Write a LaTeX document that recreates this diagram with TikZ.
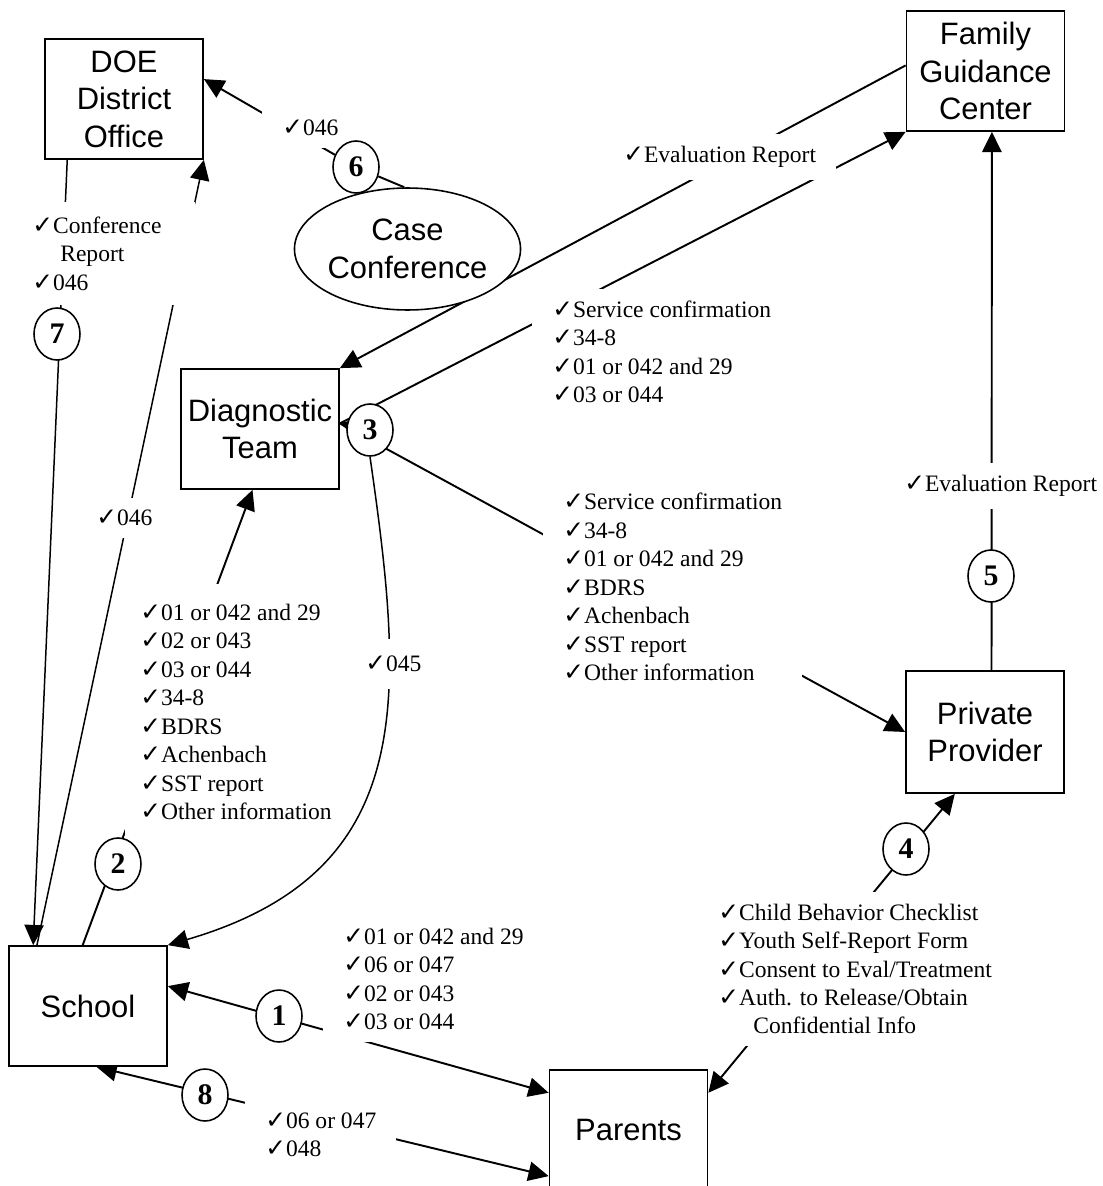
\documentclass[tikz,border=0pt]{standalone}
\usepackage{fontspec}
\setmainfont{Liberation Serif}
\setsansfont{Liberation Sans}
\newfontfamily\checkfont[Scale=1.05]{DejaVu Sans}
\usetikzlibrary{arrows.meta,shapes.geometric}
\newcommand{\chk}{{\checkfont ✓}}
\pgfdeclarelayer{lines}
\pgfdeclarelayer{labels}
\pgfsetlayers{lines,labels,main}
\begin{document}
\begin{tikzpicture}[x=0.02cm,y=-0.02cm,
    office/.style={draw,line width=1pt,fill=white,minimum width=3.16cm,minimum height=2.4cm,inner sep=0pt,align=center,font=\sffamily\fontsize{17.6}{21.3}\selectfont},
    num/.style={draw,ellipse,line width=0.9pt,fill=white,minimum width=0.92cm,minimum height=1.04cm,inner sep=0pt,font=\bfseries\fontsize{17}{18}\selectfont},
    doc/.style={fill=white,align=left,anchor=west,inner xsep=0.4cm,inner ysep=0.24cm,font=\fontsize{13.4}{16.2}\selectfont},
    flow/.style={line width=1.1pt,-{Triangle[length=11.5pt,width=11pt]}},
    thinflow/.style={line width=0.85pt,-{Triangle[length=11.5pt,width=11pt]}},
    twoway/.style={line width=1.1pt,{Triangle[length=11.5pt,width=11pt]}-{Triangle[length=11.5pt,width=11pt]}}]
    \useasboundingbox (0,0) rectangle (1102,1186);
    \node[office] (doe) at (124,99) {DOE\\District\\Office};
    \node[office] (fgc) at (985.5,71) {Family\\Guidance\\Center};
    \node[office] (dt) at (260,429) {Diagnostic\\Team};
    \node[office,minimum height=2.44cm] (pp) at (985,732) {Private\\Provider};
    \node[office] (school) at (88,1006) {School};
    \node[office] (parents) at (628.5,1130) {Parents};
    \node[office,ellipse,line width=0.9pt,minimum width=4.1cm,minimum height=2.44cm] (cc) at (407.5,249) {Case\\Conference};
    \node[num] (c1) at (279,1016) {1};
    \node[num] (c2) at (118,864) {2};
    \node[num] (c3) at (370,430) {3};
    \node[num] (c4) at (906,849) {4};
    \node[num] (c5) at (991,576) {5};
    \node[num] (c6) at (356,167) {6};
    \node[num] (c7) at (57,334) {7};
    \node[num] (c8) at (205,1095) {8};
    \begin{pgfonlayer}{lines}
        \draw[flow] (c6) -- (doe.14);
        \draw[line width=1.1pt] (c6) -- (cc.93);
        \draw[thinflow] (doe.227) -- (school.132);
        \draw[thinflow] (school.130) -- (doe.south east);
        \draw[flow] (school.95) -- (dt.263);
        \draw[flow] (fgc.176) -- (dt.north east);
        \draw[flow] (dt.4) -- (fgc.south west);
        \draw[flow] (dt.4) -- (pp.west);
        \draw[line width=0.8pt,-{Triangle[length=5pt,width=5pt]}] (c3) -- (dt.4);
        \draw[thinflow] (c3.south) .. controls (405,700) and (418,872) .. (school.north east);
        \draw[flow] (pp.84) -- (fgc.276);
        \draw[twoway] (parents.25) -- (pp.244);
        \draw[twoway] (school.14) -- (parents.155);
        \draw[twoway] (school.278) -- (parents.210);
    \end{pgfonlayer}
    \begin{pgfonlayer}{labels}
        \node[doc] (lfirst) at (262,128) {\chk046};
        \node[doc,inner xsep=0.72cm,inner ysep=0.3cm,text width=2.54cm] (lconf) at (-4,253.5) {\chk Conference\\\hspace*{0.56cm}Report\\\chk046};
        \node[doc] (lsecond) at (76,518) {\chk046};
        \node[doc,inner xsep=0.3cm,inner ysep=0.4cm] (ldocs) at (125,712) {\chk01 or 042 and 29\\\chk02 or 043\\\chk03 or 044\\\chk34-8\\\chk BDRS\\\chk Achenbach\\\chk SST report\\\chk Other information\hspace*{-0.3cm}};
        \node[doc,inner ysep=0.34cm] (lcurve) at (345,664) {\chk045};
        \node[doc] (leval) at (603,157) {\chk Evaluation Report};
        \node[doc] (lsvc) at (532,352) {\chk Service confirmation\\\chk34-8\\\chk01 or 042 and 29\\\chk03 or 044};
        \node[doc] (lsvcpp) at (543,587) {\chk Service confirmation\\\chk34-8\\\chk01 or 042 and 29\\\chk BDRS\\\chk Achenbach\\\chk SST report\\\chk Other information};
        \node[doc] (levalpp) at (884,486) {\chk Evaluation Report};
        \node[doc] (lparents) at (698,969) {\chk Child Behavior Checklist\\\chk Youth Self-Report Form\\\chk Consent to Eval/Treatment\\\chk Auth. to Release/Obtain\\\hspace*{0.7cm}Confidential Info};
        \node[doc] (lone) at (323,979) {\chk01 or 042 and 29\\\chk06 or 047\\\chk02 or 043\\\chk03 or 044};
        \node[doc] (leight) at (245,1135) {\chk06 or 047\\\chk048};
    \end{pgfonlayer}
\end{tikzpicture}
\end{document}
